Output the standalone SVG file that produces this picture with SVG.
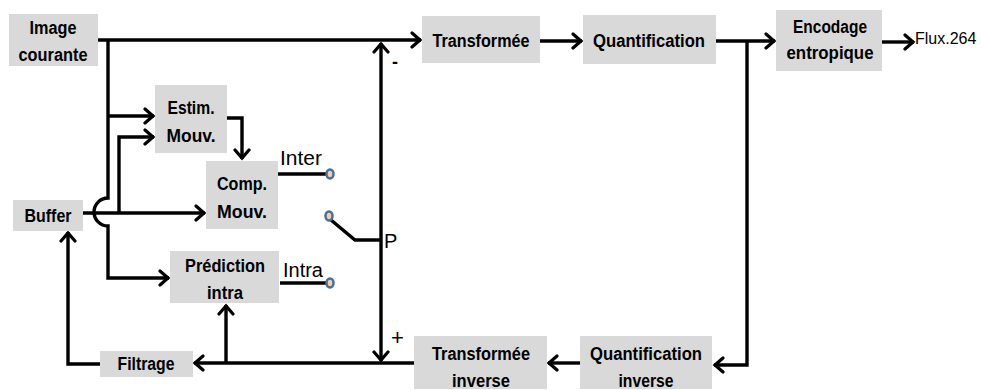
<svg xmlns="http://www.w3.org/2000/svg" width="982" height="390" viewBox="0 0 982 390">
<defs>
<style>
.box{fill:#d9d9d9}
.lbl{font-family:"Liberation Sans",Arial,sans-serif;font-weight:bold;font-size:18px;fill:#000;text-anchor:middle}
.txt{font-family:"Liberation Sans",Arial,sans-serif;font-size:20px;fill:#000}
.ln{fill:none;stroke:#000;stroke-width:3.4;stroke-linejoin:miter}
.ar{marker-end:url(#ah)}
.term{fill:#f8cbad;stroke:#41719c;stroke-width:2.5}
</style>
<marker id="ah" viewBox="-12 -9 14 18" refX="0" refY="0" markerWidth="14" markerHeight="18" markerUnits="userSpaceOnUse" orient="auto">
<path d="M-9,-7 L-1,0 L-9,7" fill="none" stroke="#000" stroke-width="3.2" stroke-linecap="round"/>
</marker>
</defs>
<rect width="982" height="390" fill="#fff"/>

<g id="connectors">
<path class="ln ar" d="M98,40 H421"/>
<path class="ln ar" d="M540,41 H582"/>
<path class="ln ar" d="M716,41 H775"/>
<path class="ln ar" d="M882,42 H914"/>
<path class="ln ar" d="M747,41 V365 H714"/>
<path class="ln ar" d="M580,363 H548"/>
<path class="ln ar" d="M414,363 H194"/>
<path class="ln ar" d="M100,364 H68 V232"/>
<path class="ln ar" d="M226,363 V305"/>
<path class="ln ar" d="M381,240 V43"/>
<path class="ln ar" d="M381,240 V361"/>
<path class="ln ar" d="M108,40 V198 A14,14 0 0 0 108,226 V278 H169"/>
<path class="ln ar" d="M108,116 H154"/>
<path class="ln ar" d="M83,213 H205"/>
<path class="ln ar" d="M119,213 V137 H154"/>
<path class="ln ar" d="M227,118 H242 V159"/>
<path class="ln" d="M278,174 H326"/>
<path class="ln" d="M280,283 H326"/>
<path class="ln" d="M331,220 L355,240 H381"/>
<ellipse class="term" cx="330" cy="174" rx="3.5" ry="4.5"/>
<ellipse class="term" cx="329" cy="216" rx="3.5" ry="4.5"/>
<ellipse class="term" cx="330" cy="283" rx="3.5" ry="4.5"/>
<text class="txt" x="280" y="165" textLength="42" lengthAdjust="spacingAndGlyphs">Inter</text>
<text class="txt" x="283" y="277" textLength="40" lengthAdjust="spacingAndGlyphs">Intra</text>
<text class="txt" x="384" y="248">P</text>
<text class="txt" x="392" y="68" style="font-size:18px;font-weight:bold">-</text>
<text class="txt" x="391" y="345" style="font-size:22px">+</text>
<text class="txt" x="915" y="44" style="font-size:16px">Flux.264</text>
</g>

<g id="image-courante">
<rect class="box" x="9" y="14" width="89" height="52"/>
<text class="lbl" x="53" y="34" textLength="47" lengthAdjust="spacingAndGlyphs">Image</text>
<text class="lbl" x="53" y="61" textLength="69" lengthAdjust="spacingAndGlyphs">courante</text>
</g>
<g id="transformee">
<rect class="box" x="422" y="16" width="118" height="47"/>
<text class="lbl" x="481" y="47" textLength="97" lengthAdjust="spacingAndGlyphs">Transformée</text>
</g>
<g id="quantification">
<rect class="box" x="583" y="15" width="133" height="49"/>
<text class="lbl" x="649" y="47" textLength="112" lengthAdjust="spacingAndGlyphs">Quantification</text>
</g>
<g id="encodage">
<rect class="box" x="776" y="10" width="106" height="61"/>
<text class="lbl" x="830" y="33" textLength="74" lengthAdjust="spacingAndGlyphs">Encodage</text>
<text class="lbl" x="830" y="59" textLength="87" lengthAdjust="spacingAndGlyphs">entropique</text>
</g>
<g id="estim-mouv">
<rect class="box" x="155" y="85" width="72" height="68"/>
<text class="lbl" x="191" y="114" textLength="47" lengthAdjust="spacingAndGlyphs">Estim.</text>
<text class="lbl" x="191" y="142" textLength="49" lengthAdjust="spacingAndGlyphs">Mouv.</text>
</g>
<g id="comp-mouv">
<rect class="box" x="206" y="161" width="72" height="68"/>
<text class="lbl" x="242" y="190" textLength="50" lengthAdjust="spacingAndGlyphs">Comp.</text>
<text class="lbl" x="242" y="218" textLength="50" lengthAdjust="spacingAndGlyphs">Mouv.</text>
</g>
<g id="buffer">
<rect class="box" x="13" y="200" width="70" height="31"/>
<text class="lbl" x="48" y="222" textLength="47" lengthAdjust="spacingAndGlyphs">Buffer</text>
</g>
<g id="prediction-intra">
<rect class="box" x="170" y="251" width="109" height="52"/>
<text class="lbl" x="225" y="272" textLength="80" lengthAdjust="spacingAndGlyphs">Prédiction</text>
<text class="lbl" x="225" y="299" textLength="36" lengthAdjust="spacingAndGlyphs">intra</text>
</g>
<g id="filtrage">
<rect class="box" x="100" y="351" width="93" height="26"/>
<text class="lbl" x="146" y="370" textLength="57" lengthAdjust="spacingAndGlyphs">Filtrage</text>
</g>
<g id="transformee-inverse">
<rect class="box" x="414" y="336" width="133" height="53"/>
<text class="lbl" x="481" y="360" textLength="98" lengthAdjust="spacingAndGlyphs">Transformée</text>
<text class="lbl" x="481" y="387" textLength="58" lengthAdjust="spacingAndGlyphs">inverse</text>
</g>
<g id="quantification-inverse">
<rect class="box" x="580" y="336" width="132" height="53"/>
<text class="lbl" x="646" y="360" textLength="112" lengthAdjust="spacingAndGlyphs">Quantification</text>
<text class="lbl" x="646" y="387" textLength="55" lengthAdjust="spacingAndGlyphs">inverse</text>
</g>
</svg>
